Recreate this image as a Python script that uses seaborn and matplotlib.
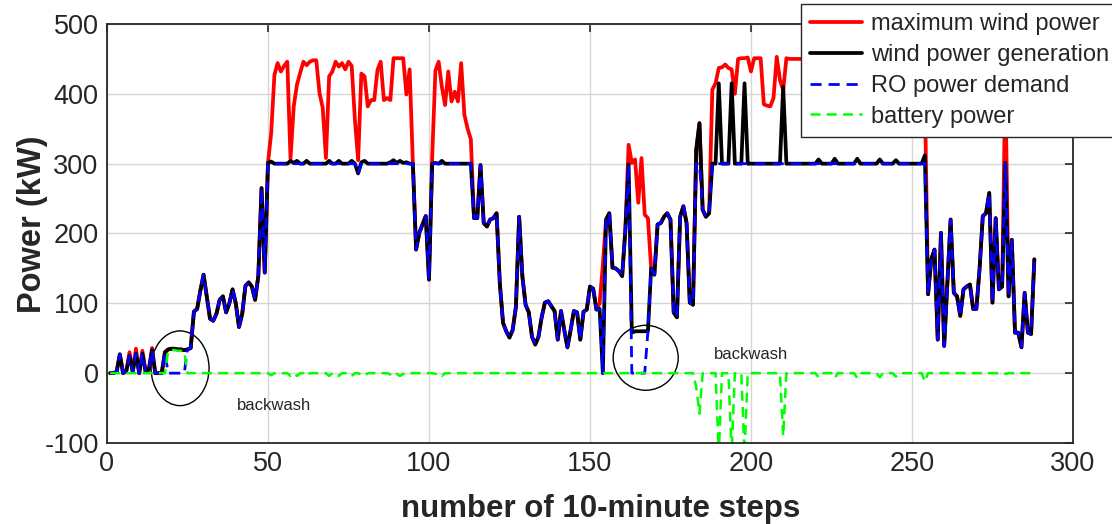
import matplotlib
matplotlib.use("Agg")
import matplotlib.pyplot as plt
import seaborn as sns
import pandas as pd
from matplotlib.patches import Ellipse

# ---------------- data ----------------
steps = list(range(1, 289))

wind_gen = [
    0, 0, 2, 27, 0, 3, 25, 2, 28, 0,
    28, 2, 5, 33, 0, 0, 0, 30, 34, 35,
    35, 34, 34, 33, 34, 36, 88, 92, 118, 141,
    110, 78, 75, 85, 105, 110, 87, 100, 120, 100,
    66, 85, 125, 130, 124, 105, 139, 265, 144, 301,
    303, 300, 300, 300, 300, 300, 304, 301, 304, 300,
    300, 304, 300, 300, 300, 300, 300, 300, 304, 300,
    300, 304, 300, 300, 300, 304, 300, 286, 302, 304,
    300, 300, 300, 300, 300, 300, 300, 302, 305, 301,
    304, 301, 302, 300, 300, 177, 201, 213, 225, 134,
    300, 301, 300, 304, 300, 300, 300, 300, 300, 300,
    300, 300, 300, 222, 222, 298, 215, 210, 220, 222,
    229, 129, 72, 60, 51, 62, 95, 224, 139, 98,
    87, 52, 41, 52, 80, 101, 103, 96, 89, 48,
    89, 62, 37, 62, 89, 87, 48, 88, 91, 124,
    121, 91, 92, 0, 220, 229, 151, 150, 146, 139,
    206, 299, 58, 60, 60, 60, 60, 60, 150, 141,
    213, 215, 224, 229, 220, 87, 80, 224, 239, 215,
    101, 98, 320, 358, 234, 224, 229, 300, 300, 415,
    300, 300, 300, 415, 300, 300, 300, 415, 300, 300,
    300, 300, 300, 300, 300, 300, 300, 300, 300, 410,
    300, 300, 300, 300, 300, 300, 300, 300, 300, 300,
    306, 300, 300, 300, 300, 307, 300, 300, 300, 300,
    300, 300, 307, 300, 300, 300, 300, 300, 300, 306,
    300, 300, 300, 300, 305, 300, 300, 300, 300, 300,
    300, 300, 300, 312, 113, 163, 177, 48, 201, 39,
    129, 220, 115, 110, 82, 120, 124, 127, 92, 92,
    150, 225, 229, 258, 101, 222, 120, 124, 301, 110,
    191, 58, 58, 37, 115, 58, 56, 163,
]

max_wind = [
    0, 0, 2, 27, 0, 3, 30, 2, 35, 0,
    32, 2, 5, 36, 0, 0, 0, 30, 34, 35,
    35, 34, 34, 33, 34, 36, 88, 92, 118, 141,
    110, 78, 75, 85, 105, 110, 87, 100, 120, 100,
    66, 85, 125, 130, 124, 105, 139, 265, 144, 301,
    344, 427, 444, 432, 440, 446, 307, 382, 413, 430,
    446, 441, 446, 448, 448, 401, 380, 308, 425, 432,
    446, 439, 444, 435, 446, 440, 363, 305, 429, 425,
    382, 391, 391, 434, 446, 391, 394, 391, 451, 451,
    451, 451, 399, 435, 301, 177, 201, 213, 225, 134,
    310, 433, 446, 410, 384, 432, 389, 403, 389, 444,
    370, 350, 335, 222, 222, 298, 215, 210, 220, 222,
    229, 129, 72, 60, 51, 62, 95, 224, 139, 98,
    87, 52, 41, 52, 80, 101, 103, 96, 89, 48,
    89, 62, 37, 62, 89, 87, 48, 88, 91, 124,
    121, 91, 100, 155, 220, 229, 151, 150, 146, 139,
    206, 327, 301, 306, 244, 308, 227, 222, 150, 141,
    213, 215, 224, 229, 220, 87, 80, 224, 239, 215,
    101, 98, 320, 358, 234, 224, 229, 406, 415, 437,
    438, 442, 437, 435, 400, 450, 451, 451, 452, 432,
    451, 451, 451, 385, 383, 382, 394, 453, 420, 405,
    451, 450, 450, 450, 450, 450, 450, 450, 450, 450,
    450, 450, 450, 450, 450, 450, 450, 450, 450, 450,
    450, 450, 450, 450, 450, 450, 450, 450, 450, 450,
    450, 450, 450, 450, 450, 450, 450, 450, 450, 450,
    450, 450, 450, 400, 113, 163, 177, 48, 201, 39,
    129, 220, 115, 110, 82, 120, 124, 127, 92, 92,
    150, 225, 229, 258, 101, 222, 120, 124, 420, 110,
    191, 58, 58, 37, 115, 58, 56, 163,
]

ro_demand = [
    0, 0, 2, 27, 0, 3, 25, 2, 28, 0,
    28, 2, 5, 33, 0, 0, 0, 30, 0, 0,
    0, 0, 0, 0, 34, 36, 88, 92, 118, 141,
    110, 78, 75, 85, 105, 110, 87, 100, 120, 100,
    66, 85, 125, 130, 124, 105, 139, 265, 144, 300,
    300, 300, 300, 300, 300, 300, 300, 300, 300, 300,
    300, 300, 300, 300, 300, 300, 300, 300, 300, 300,
    300, 300, 300, 300, 300, 300, 300, 286, 300, 300,
    300, 300, 300, 300, 300, 300, 300, 300, 300, 300,
    300, 300, 300, 300, 300, 177, 201, 213, 225, 134,
    300, 300, 300, 300, 300, 300, 300, 300, 300, 300,
    300, 300, 300, 222, 222, 298, 215, 210, 220, 222,
    229, 129, 72, 60, 51, 62, 95, 224, 139, 98,
    87, 52, 41, 52, 80, 101, 103, 96, 89, 48,
    89, 62, 37, 62, 89, 87, 48, 88, 91, 124,
    121, 91, 92, 0, 220, 229, 151, 150, 146, 139,
    206, 299, 0, 0, 0, 0, 0, 60, 150, 141,
    213, 215, 224, 229, 220, 87, 80, 224, 239, 215,
    101, 98, 300, 300, 234, 224, 229, 300, 300, 300,
    300, 300, 300, 300, 300, 300, 300, 300, 300, 300,
    300, 300, 300, 300, 300, 300, 300, 300, 300, 300,
    300, 300, 300, 300, 300, 300, 300, 300, 300, 300,
    300, 300, 300, 300, 300, 300, 300, 300, 300, 300,
    300, 300, 300, 300, 300, 300, 300, 300, 300, 300,
    300, 300, 300, 300, 300, 300, 300, 300, 300, 300,
    300, 300, 300, 300, 113, 163, 177, 48, 201, 39,
    129, 220, 115, 110, 82, 120, 124, 127, 92, 92,
    150, 225, 229, 258, 101, 222, 120, 124, 300, 110,
    191, 58, 58, 37, 115, 58, 56, 163,
]

battery = [
    0, 0, 0, 0, 0, 0, 0, 0, 0, 0,
    0, 0, 0, 0, 0, 0, 0, 0, 32, 33,
    33, 32, 32, 31, 0, 0, 0, 0, 0, 0,
    0, 0, 0, 0, 0, 0, 0, 0, 0, 0,
    0, 0, 0, 0, 0, 0, 0, 0, 0, 0,
    -3, 0, 0, 0, 0, 0, -4, 0, -4, 0,
    0, -4, 0, 0, 0, 0, 0, 0, -4, 0,
    0, -4, 0, 0, 0, -4, 0, 0, -2, -4,
    0, 0, 0, 0, 0, 0, 0, -2, -5, -1,
    -4, -1, -2, 0, 0, 0, 0, 0, 0, 0,
    0, -1, 0, -4, 0, 0, 0, 0, 0, 0,
    0, 0, 0, 0, 0, 0, 0, 0, 0, 0,
    0, 0, 0, 0, 0, 0, 0, 0, 0, 0,
    0, 0, 0, 0, 0, 0, 0, 0, 0, 0,
    0, 0, 0, 0, 0, 0, 0, 0, 0, 0,
    0, 0, 0, 0, 0, 0, 0, 0, 0, 0,
    0, 0, 0, 0, 0, 0, 0, 0, 0, 0,
    0, 0, 0, 0, 0, 0, 0, 0, 0, 0,
    0, 0, -20, -58, 0, 0, 0, 0, 0, -115,
    0, 0, 0, -115, 0, 0, 0, -115, 0, 0,
    0, 0, 0, 0, 0, 0, 0, 0, 0, -90,
    0, 0, 0, 0, 0, 0, 0, 0, 0, 0,
    -6, 0, 0, 0, 0, -7, 0, 0, 0, 0,
    0, 0, -7, 0, 0, 0, 0, 0, 0, -6,
    0, 0, 0, 0, -5, 0, 0, 0, 0, 0,
    0, 0, 0, -12, 0, 0, 0, 0, 0, 0,
    0, 0, 0, 0, 0, 0, 0, 0, 0, 0,
    0, 0, 0, 0, 0, 0, 0, 0, -1, 0,
    0, 0, 0, 0, 0, 0, 0, 0,
]

labels = ["maximum wind power", "wind power generation",
          "RO power demand", "battery power"]
x_ticks = [0, 50, 100, 150, 200, 250, 300]
y_ticks = [-100, 0, 100, 200, 300, 400, 500]

# ---------------- styling ----------------
sns.set_style("white")
plt.rcParams["font.family"] = ["Liberation Sans", "DejaVu Sans"]

df = pd.DataFrame({"step": steps, "max": max_wind, "gen": wind_gen,
                   "ro": ro_demand, "bat": battery})

fig = plt.figure(figsize=(11.12, 5.24), dpi=100)
ax = fig.add_axes([0.0962, 0.1546, 0.8687, 0.7996])

sns.lineplot(data=df, x="step", y="max", ax=ax, color="#ff0000",
             linewidth=2.7, label=labels[0])
sns.lineplot(data=df, x="step", y="gen", ax=ax, color="#000000",
             linewidth=2.7, label=labels[1])
sns.lineplot(data=df, x="step", y="ro", ax=ax, color="#0000ff",
             linewidth=2.0, linestyle=(0, (4, 2.5)), label=labels[2])
sns.lineplot(data=df, x="step", y="bat", ax=ax, color="#00ff00",
             linewidth=1.8, linestyle=(0, (4, 2.5)), label=labels[3])

ax.set_xlim(0, 300)
ax.set_ylim(-100, 500)
ax.set_xticks(x_ticks)
ax.set_yticks(y_ticks)
ax.set_xticklabels([str(v) for v in x_ticks])
ax.set_yticklabels([str(v) for v in y_ticks])
ax.grid(True, color="#d6d6d6", linewidth=1.0)
ax.set_axisbelow(True)
for sp in ax.spines.values():
    sp.set_visible(True)
    sp.set_color("#262626")
    sp.set_linewidth(1.3)
ax.tick_params(direction="in", length=6, width=1.2, color="#262626",
               top=True, right=True, labelsize=19.5, labelcolor="#262626", pad=6)

ax.set_xlabel("number of 10-minute steps", fontsize=22.5, fontweight="bold",
              color="#262626")
ax.xaxis.set_label_coords(0.511, -0.122)
ax.set_ylabel("Power (kW)", fontsize=23.5, fontweight="bold",
              color="#262626")
ax.yaxis.set_label_coords(-0.061, 0.523)

ax.add_patch(Ellipse((22.7, 7), 18, 107, fill=False, edgecolor="black", lw=1.0))
ax.add_patch(Ellipse((167.3, 22), 20.2, 93, fill=False, edgecolor="black", lw=1.0))
ax.text(52, -46, "backwash", fontsize=12, ha="center", va="center")
ax.text(200, 27, "backwash", fontsize=12, ha="center", va="center")

leg = ax.legend(loc="upper left", bbox_to_anchor=(0.7184, 1.048),
                borderaxespad=0, fontsize=17, frameon=True, fancybox=False,
                framealpha=1, edgecolor="#262626", handlelength=2.2,
                handletextpad=0.35, labelspacing=0.37, borderpad=0.4)
leg.get_frame().set_linewidth(1.0)

fig.savefig("out.png", dpi=100)
